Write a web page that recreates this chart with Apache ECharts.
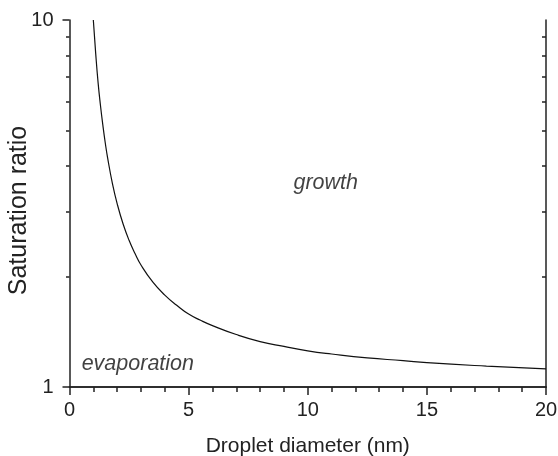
<!DOCTYPE html>
<html>
<head>
<meta charset="utf-8">
<script src="https://cdn.jsdelivr.net/npm/echarts@6/dist/echarts.min.js"></script>
<style>
  html, body { margin: 0; padding: 0; background: #fff; }
  #chart { width: 558px; height: 456px; }
</style>
</head>
<body>
<div id="chart"></div>
<script>
// droplet diameter (nm) and saturation ratio
var diameter = [1.0, 1.1, 1.2, 1.3, 1.4, 1.5, 1.6, 1.8, 2.0, 2.25, 2.5, 2.75, 3.0, 3.5, 4.0, 4.5, 5.0, 5.5, 6.0, 7.0, 8.0, 9.0, 10, 11, 12.5, 14, 15, 17.5, 20];
var ratio    = [10, 8.1, 6.75, 5.85, 5.17, 4.63, 4.21, 3.59, 3.16, 2.78, 2.51, 2.31, 2.15, 1.93, 1.78, 1.67, 1.58, 1.52, 1.47, 1.39, 1.33, 1.29, 1.255, 1.23, 1.2, 1.18, 1.165, 1.14, 1.12];
var xTicks = [0, 5, 10, 15, 20];
var yMinorTicks = [2, 3, 4, 5, 6, 7, 8, 9];
// region labels: [x, y, text]
var notes = [[9.4, 3.6, 'growth'], [0.51, 1.155, 'evaporation']];

var font = "'Liberation Sans', Arial, sans-serif";
var ink = '#222';

var chart = echarts.init(document.getElementById('chart'), null, { renderer: 'canvas' });

var curve = diameter.map(function (d, i) { return [d, ratio[i]]; });
// minor ticks of the log axis, placed on a linear 0..1 (decade) helper axis
var minorPos = yMinorTicks.map(function (v) { return Math.log10(v); });
var line = { color: ink, width: 1.5 };

var option = {
  animation: false,
  backgroundColor: '#fff',
  grid: { left: 69.5, right: 12, top: 20, bottom: 69, containLabel: false, outerBoundsMode: 'none' },
  xAxis: [{
    type: 'value', position: 'bottom',
    min: xTicks[0], max: xTicks[xTicks.length - 1], interval: 5,
    axisLine: { lineStyle: line },
    axisTick: { inside: false, length: 8, lineStyle: line },
    minorTick: { show: true, splitNumber: 5, length: 4, lineStyle: line },
    axisLabel: { fontSize: 20, color: ink, margin: 13, fontFamily: font },
    splitLine: { show: false },
    name: 'Droplet diameter (nm)', nameLocation: 'middle', nameGap: 49,
    nameMoveOverlap: false,
    nameTextStyle: { fontSize: 21, color: ink, fontFamily: font }
  }, {
    type: 'value', position: 'top',
    min: xTicks[0], max: xTicks[xTicks.length - 1], interval: 5,
    axisLine: { lineStyle: line },
    axisTick: { inside: true, length: 8, lineStyle: line },
    minorTick: { show: true, splitNumber: 5, length: 5, lineStyle: line },
    axisLabel: { show: false },
    splitLine: { show: false }
  }],
  yAxis: [{
    type: 'log', logBase: 10, position: 'left', min: 1, max: 10,
    axisLine: { show: true, lineStyle: line },
    axisTick: { show: true, inside: false, length: 7, lineStyle: line },
    axisLabel: { fontSize: 20, color: ink, margin: 16, fontFamily: font },
    splitLine: { show: false },
    name: 'Saturation ratio', nameLocation: 'middle', nameGap: 38,
    nameMoveOverlap: false,
    nameTextStyle: { fontSize: 25, color: ink, fontFamily: font, padding: [0, 14, 0, 0] }
  }, {
    type: 'value', position: 'left', min: 0, max: 1,
    axisLine: { show: false },
    axisTick: { show: true, inside: false, length: 3.5, customValues: minorPos, lineStyle: line },
    axisLabel: { show: false },
    splitLine: { show: false }
  }, {
    type: 'value', position: 'right', min: 0, max: 1,
    axisLine: { show: true, lineStyle: line },
    axisTick: { show: true, inside: true, length: 4, customValues: minorPos, lineStyle: line },
    axisLabel: { show: false },
    splitLine: { show: false }
  }],
  series: [{
    type: 'line',
    xAxisIndex: 0, yAxisIndex: 0,
    data: curve,
    smooth: 0.5,
    showSymbol: false,
    lineStyle: { color: '#111', width: 1.2 }
  }, {
    type: 'scatter',
    xAxisIndex: 0, yAxisIndex: 0,
    symbolSize: 0,
    data: notes.map(function (n) { return { value: [n[0], n[1]], name: n[2] }; }),
    label: {
      show: true, position: 'right', distance: 0,
      formatter: '{b}', fontSize: 21.5, fontStyle: 'italic',
      color: '#111', fontFamily: font
    },
    silent: true
  }]
};

chart.setOption(option);
</script>
</body>
</html>
